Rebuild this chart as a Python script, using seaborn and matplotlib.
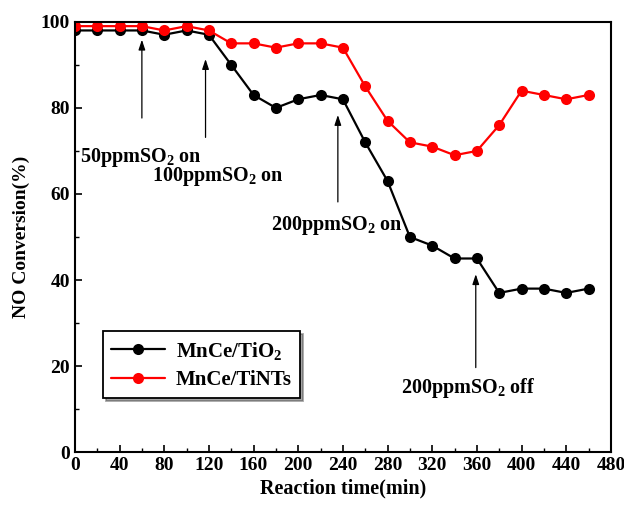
import matplotlib
matplotlib.use("Agg")
import matplotlib.pyplot as plt
import seaborn as sns
import pandas as pd
from matplotlib.ticker import MultipleLocator

time_min = list(range(0, 461, 20))
mnce_tio2 = [98, 98, 98, 98, 97, 98, 97, 90, 83, 80, 82, 83, 82, 72, 63, 50, 48, 45, 45, 37, 38, 38, 37, 38]
mnce_tints = [99, 99, 99, 99, 98, 99, 98, 95, 95, 94, 95, 95, 94, 85, 77, 72, 71, 69, 70, 76, 84, 83, 82, 83]
series_names = ["MnCe/TiO$_2$", "MnCe/TiNTs"]
series_colors = ["black", "red"]

df = pd.concat([
    pd.DataFrame({"Time": time_min, "Conversion": mnce_tio2, "Catalyst": series_names[0]}),
    pd.DataFrame({"Time": time_min, "Conversion": mnce_tints, "Catalyst": series_names[1]}),
])

sns.set_style("ticks", {"axes.edgecolor": "black", "text.color": "black",
                        "xtick.color": "black", "ytick.color": "black",
                        "axes.labelcolor": "black"})
plt.rcParams["font.family"] = ["Liberation Serif", "DejaVu Serif"]
plt.rcParams["font.weight"] = "bold"
plt.rcParams["mathtext.fontset"] = "custom"
plt.rcParams["mathtext.rm"] = "Liberation Serif:bold"
plt.rcParams["mathtext.it"] = "Liberation Serif:bold"

fig = plt.figure(figsize=(6.24, 5.08), dpi=100)
ax = fig.add_axes([0.120, 0.110, 0.859, 0.847])

sns.lineplot(data=df, x="Time", y="Conversion", hue="Catalyst",
             palette=dict(zip(series_names, series_colors)),
             marker="o", markersize=8, markeredgecolor="none",
             linewidth=1.6, ax=ax)

ax.set_xlim(0, 480)
ax.set_ylim(0, 100)
ax.xaxis.set_major_locator(MultipleLocator(40))
ax.xaxis.set_minor_locator(MultipleLocator(20))
ax.yaxis.set_major_locator(MultipleLocator(20))
ax.yaxis.set_minor_locator(MultipleLocator(10))
ax.tick_params(which="both", direction="in", top=False, right=False, colors="black")
ax.tick_params(which="major", length=5, width=1.2, labelsize=14)
ax.tick_params(which="minor", length=3, width=1.0)
for lab in ax.get_xticklabels() + ax.get_yticklabels():
    lab.set_fontweight("bold")
for sp in ax.spines.values():
    sp.set_linewidth(1.5)
    sp.set_color("black")
    sp.set_visible(True)

ax.set_xlabel("Reaction time(min)", fontsize=14.5, fontweight="bold", labelpad=3)
ax.set_ylabel("NO Conversion(%)", fontsize=14, fontweight="bold", labelpad=8)

arrow_kw = dict(arrowstyle="-|>,head_length=0.6,head_width=0.2", color="black", lw=0.9)
annots = [
    ("50ppmSO$_2$ on", 60, 96.5, 77, 4.5, 68.5),
    ("100ppmSO$_2$ on", 117, 92, 72.5, 69, 64),
    ("200ppmSO$_2$ on", 235.5, 79, 57.5, 176, 52.7),
    ("200ppmSO$_2$ off", 359, 42, 19, 292, 15),
]
for text, ax_x, y_head, y_tail, tx, ty in annots:
    ax.annotate("", xy=(ax_x, y_head), xytext=(ax_x, y_tail), arrowprops=arrow_kw)
    ax.text(tx, ty, text, fontsize=14.5, fontweight="bold", va="center", ha="left",
            color="black")

handles, labels = ax.get_legend_handles_labels()
leg = ax.legend(handles, labels, loc="lower left", bbox_to_anchor=(0.052, 0.125),
                fontsize=15, frameon=True, fancybox=False, shadow=True,
                edgecolor="black", handlelength=2.6, handletextpad=0.5,
                borderpad=0.4, labelspacing=0.4, borderaxespad=0)
leg.get_frame().set_linewidth(1.3)
for t in leg.get_texts():
    t.set_fontweight("bold")
    t.set_color("black")

fig.savefig("out.png", dpi=100)
